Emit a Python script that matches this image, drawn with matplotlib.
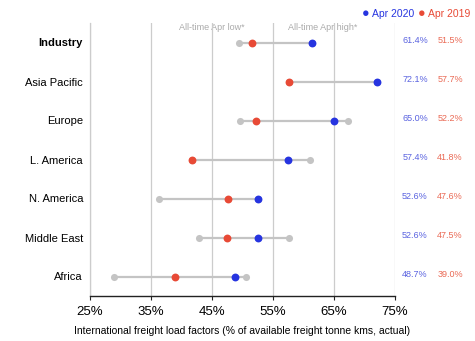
import matplotlib.pyplot as plt
import matplotlib.transforms as mtransforms
import numpy as np

plt.rcParams.update({
    'font.family': ['Liberation Sans', 'DejaVu Sans'],
    'font.size': 8,
})

regions = ['Industry', 'Asia Pacific', 'Europe', 'L. America',
           'N. America', 'Middle East', 'Africa']
apr_2020 = [61.4, 72.1, 65.0, 57.4, 52.6, 52.6, 48.7]
apr_2019 = [51.5, 57.7, 52.2, 41.8, 47.6, 47.5, 39.0]
alltime_low = [49.4, 57.7, 49.6, 41.8, 36.3, 42.9, 28.9]
alltime_high = [61.4, 72.1, 67.3, 61.1, 52.6, 57.7, 50.6]
xticks = [25, 35, 45, 55, 65, 75]

BLUE = '#2634e0'
RED = '#e84a36'
GRAY = '#c4c4c4'

fig = plt.figure(figsize=(4.75, 3.41), dpi=100)
ax = fig.add_axes([90 / 475, 45 / 341, 305 / 475, 273 / 341])

y = np.arange(len(regions))

# range bars between the all-time April low and high
for yi, lo, hi in zip(y, alltime_low, alltime_high):
    ax.plot([lo, hi], [yi, yi], color=GRAY, lw=1.6, zorder=2, solid_capstyle='butt')
ax.scatter(alltime_low, y, s=26, color=GRAY, zorder=3, linewidths=0)
ax.scatter(alltime_high, y, s=26, color=GRAY, zorder=3, linewidths=0)
ax.scatter(apr_2019, y, s=32, color=RED, zorder=4, linewidths=0)
ax.scatter(apr_2020, y, s=32, color=BLUE, zorder=4, linewidths=0)

ax.set_xlim(25, 75)
ax.set_ylim(len(regions) - 0.5, -0.5)
ax.set_xticks(xticks)
ax.set_xticklabels([f'{t}%' for t in xticks], fontsize=9.5)
ax.set_yticks(y)
ax.set_yticklabels(regions, fontsize=8)
ax.get_yticklabels()[0].set_fontweight('bold')
ax.tick_params(axis='y', length=0, pad=5)
ax.tick_params(axis='x', length=3, width=0.8, color='#222222', pad=4)

ax.grid(axis='x', color='#cccccc', lw=0.9, zorder=0)
for s in ['top', 'right']:
    ax.spines[s].set_visible(False)
ax.spines['left'].set_color('#cccccc')
ax.spines['left'].set_linewidth(0.9)
ax.spines['bottom'].set_color('#222222')
ax.spines['bottom'].set_linewidth(1.0)

ax.set_xlabel('International freight load factors (% of available freight tonne kms, actual)',
              fontsize=7.5, labelpad=6)

ax.text(45, -0.38, 'All-time Apr low*', color='#aaaaaa', fontsize=6.5,
        ha='center', va='center', zorder=1)
ax.text(63.2, -0.38, 'All-time Apr high*', color='#aaaaaa', fontsize=6.5,
        ha='center', va='center', zorder=1)

# value columns to the right of the axes
side = mtransforms.blended_transform_factory(fig.transFigure, ax.transData)
for yi, b, r in zip(y, apr_2020, apr_2019):
    ax.text(415 / 475, yi - 0.06, f'{b:.1f}%', transform=side, clip_on=False,
            fontsize=6.5, color='#5a63e0', ha='center', va='center')
    ax.text(450 / 475, yi - 0.06, f'{r:.1f}%', transform=side, clip_on=False,
            fontsize=6.5, color='#ea6a55', ha='center', va='center')

# legend
fig.text(362 / 475, 1 - 14 / 341, '\u25cf', color=BLUE, fontsize=9, ha='left', va='center')
fig.text(372 / 475, 1 - 14 / 341, 'Apr 2020', color=BLUE, fontsize=7.5, ha='left', va='center')
fig.text(418 / 475, 1 - 14 / 341, '\u25cf', color=RED, fontsize=9, ha='left', va='center')
fig.text(428 / 475, 1 - 14 / 341, 'Apr 2019', color=RED, fontsize=7.5, ha='left', va='center')

fig.savefig('out.png', dpi=100)
